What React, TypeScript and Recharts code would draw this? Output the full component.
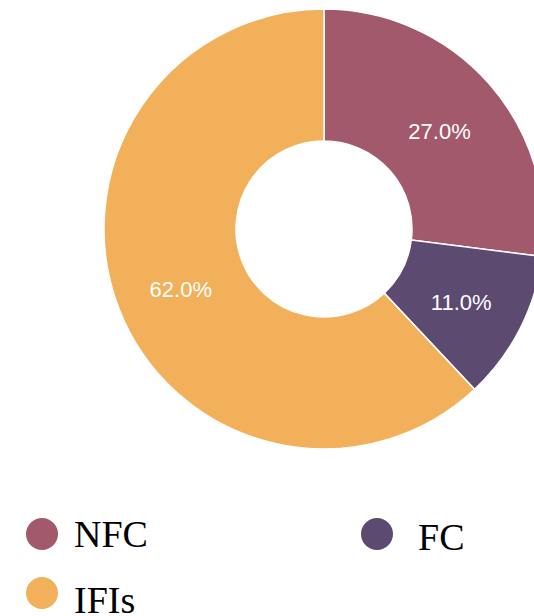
import { PieChart, Pie, Cell } from "recharts";

const categories = ["NFC", "FC", "IFIs"];
const shares = [27.0, 11.0, 62.0];
const colors = ["#a2596b", "#5c4a71", "#f2b05a"];

const data = categories.map((name, i) => ({ name, value: shares[i] }));

const RADIAN = Math.PI / 180;

const renderLabel = (props: any) => {
  const { cx, cy, midAngle, innerRadius, outerRadius, value } = props;
  const r = (innerRadius + outerRadius) / 2;
  const x = cx + r * Math.cos(-midAngle * RADIAN);
  const y = cy + r * Math.sin(-midAngle * RADIAN);
  return (
    <text
      x={x}
      y={y + 4}
      fill="#ffffff"
      textAnchor="middle"
      dominantBaseline="central"
      fontFamily="'Liberation Sans', Arial, sans-serif"
      fontSize={22}
    >
      {`${Number(value).toFixed(1)}%`}
    </text>
  );
};

// legend slots: two columns, wraps to next row
const legendPos = [
  { cx: 42, cy: 534, tx: 74, ty: 547 },
  { cx: 377, cy: 534, tx: 418, ty: 550 },
  { cx: 42, cy: 593, tx: 74, ty: 613 },
];

export default function App() {
  return (
    <div style={{ position: "relative", width: 534, height: 616, overflow: "hidden" }}>
      <style>{`body { margin: 0; } .recharts-wrapper, .recharts-surface { overflow: visible !important; }`}</style>
      <PieChart width={534} height={470} margin={{ top: 0, right: 0, bottom: 0, left: 0 }}>
        <Pie
          data={data}
          dataKey="value"
          nameKey="name"
          cx={324}
          cy={229}
          innerRadius={88}
          outerRadius={220}
          startAngle={90}
          endAngle={-270}
          stroke="#ffffff"
          strokeWidth={1.5}
          label={renderLabel}
          labelLine={false}
          isAnimationActive={false}
        >
          {data.map((d, i) => (
            <Cell key={`cell-${d.name}`} fill={colors[i]} />
          ))}
        </Pie>
      </PieChart>
      <svg
        width={534}
        height={616}
        style={{ position: "absolute", left: 0, top: 0, pointerEvents: "none" }}
      >
        {data.map((d, i) => (
          <g key={`leg-${d.name}`}>
            <circle cx={legendPos[i].cx} cy={legendPos[i].cy} r={16} fill={colors[i]} />
            <text
              x={legendPos[i].tx}
              y={legendPos[i].ty}
              fontFamily="'Liberation Serif', 'Times New Roman', serif"
              fontSize={38}
              fill="#000000"
            >
              {d.name}
            </text>
          </g>
        ))}
      </svg>
    </div>
  );
}
